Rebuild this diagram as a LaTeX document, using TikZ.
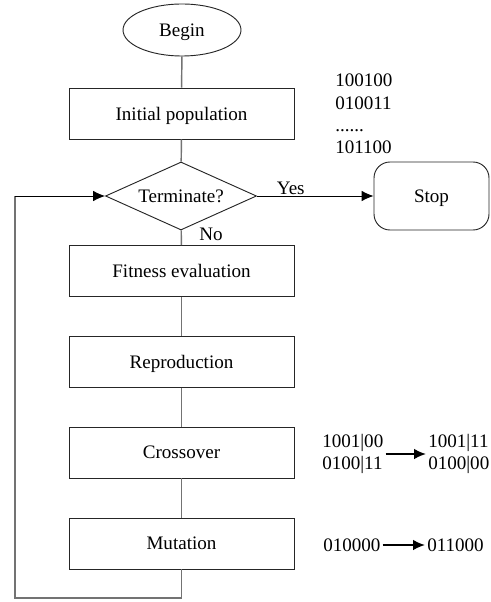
\documentclass[tikz,border=0pt]{standalone}
\usepackage{fontspec}
\setmainfont{Liberation Serif}
\usepackage{tikz}
\usetikzlibrary{arrows.meta}
\usetikzlibrary{shapes.geometric}
\tikzset{stepbox/.style = {draw=black!85, line width=0.7pt, inner sep=0pt, text depth=0pt,
                           minimum width=168.75pt, minimum height=38.25pt},
         link/.style = {draw=black!55, line width=1.1pt},
         flow/.style = {draw=black, line width=0.7pt,
                        -{Latex[length=9pt,width=8pt]}},
         bits/.style = {inner sep=1.5pt, align=left, font=\fontsize{14.3}{16.7}\selectfont}}

\begin{document}
\begin{tikzpicture}[x=0.75pt, y=-0.75pt, font=\fontsize{14.3}{17}\selectfont]
      \useasboundingbox (0, 0) rectangle (491, 602);

      \node [ellipse, draw=black!85, line width=0.7pt, inner sep=0pt, text depth=0pt,
             minimum width=88.5pt, minimum height=39pt] (begin) at (182, 30) {Begin};
      \node [stepbox] (init) at (181.5, 113.5) {Initial population};
      \node [diamond, draw=black!85, line width=0.7pt, inner sep=0pt, aspect=2.2, text depth=0pt,
             minimum width=113.25pt, minimum height=51pt] (term) at (181, 196) {Terminate?};
      \node [draw=black!85, line width=0.7pt, rounded corners=12pt, text depth=0pt,
             minimum width=86.25pt, minimum height=51pt] (stop) at (431.5, 196) {Stop};
      \node [stepbox] (fit) at (181.5, 271) {Fitness evaluation};
      \node [stepbox] (repro) at (181.5, 362) {Reproduction};
      \node [stepbox] (cross) at (181.5, 452.5) {Crossover};
      \node [stepbox] (mut) at (181.5, 543.5) {Mutation};

      \draw [link] (begin) -- (init);
      \draw [link] (init) -- (term);
      \draw [link] (term) -- (fit);
      \draw [link] (fit) -- (repro);
      \draw [link] (repro) -- (cross);
      \draw [link] (cross) -- (mut);

      \draw [flow] (term.east) -- (stop.west) node [pos=0.29, above, inner sep=1pt] {Yes};
      \node [anchor=north west, inner sep=0pt] (no) at (199, 228) {No};

      % loop back to the test
      \coordinate (loop) at (15, 598);
      \draw [link] (mut.south) -- (mut.south |- loop) -- (loop) -- (loop |- term.west);
      \draw [flow] (loop |- term.west) -- (term.west);

      % bit strings
      \node [bits, anchor=west, font=\fontsize{14.3}{16.8}\selectfont] (pop) at (333, 114)
            {100100\\010011\\......\\101100};
      \node [bits, anchor=west] (cxa) at (320, 454) {1001|00\\0100|11};
      \node [bits, anchor=west] (cxb) at (426, 454) {1001|11\\0100|00};
      \draw [flow, line width=1.3pt] (cxa.east) -- (cxb.west);
      \node [bits, anchor=west] (mua) at (321, 545) {010000};
      \node [bits, anchor=west] (mub) at (425, 545) {011000};
      \draw [flow, line width=1.3pt] (mua.east) -- (mub.west);
\end{tikzpicture}
\end{document}
